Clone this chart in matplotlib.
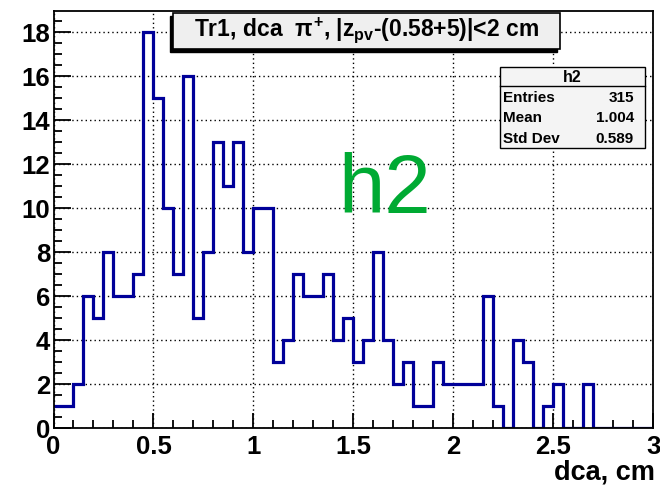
import numpy as np
import matplotlib
matplotlib.use("Agg")
import matplotlib.pyplot as plt
from matplotlib.patches import Rectangle
from matplotlib.ticker import MultipleLocator

plt.rcParams['font.family'] = ['Liberation Sans', 'DejaVu Sans']
plt.rcParams['mathtext.fontset'] = 'custom'
plt.rcParams['mathtext.rm'] = 'Liberation Sans:bold'
plt.rcParams['mathtext.it'] = 'Liberation Sans:bold'
plt.rcParams['mathtext.bf'] = 'Liberation Sans:bold'

# histogram h2: 60 bins of 0.05 on [0, 3]
bin_edges = np.linspace(0.0, 3.0, 61)
counts = [1, 1, 2, 6, 5, 8, 6, 6, 7, 18,
          15, 10, 7, 16, 5, 8, 13, 11, 13, 8,
          10, 10, 3, 4, 7, 6, 6, 7, 4, 5,
          3, 4, 8, 4, 2, 3, 1, 1, 3, 2,
          2, 2, 2, 6, 1, 0, 4, 3, 0, 1,
          2, 0, 0, 2, 0, 0, 0, 0, 0, 0]

title = "Tr1, dca  $\\pi^{+}$, |z$_{pv}$-(0.58+5)|<2 cm"
stat_names = ["Entries", "Mean", "Std Dev"]
stat_values = ["315", "1.004", "0.589"]

W, H = 660, 486
fig = plt.figure(figsize=(W / 100, H / 100), dpi=100)


def fx(px):
    return px / W


def fy(py):
    return 1 - py / H


ax = fig.add_axes([fx(53.5), fy(428.3), fx(653.3 - 53.5), (428.3 - 11) / H])
ax.stairs(counts, bin_edges, baseline=None, color='#000099', lw=2.3)
ax.set_xlim(0, 3)
ax.set_ylim(0, 18.97)

ax.xaxis.set_major_locator(MultipleLocator(0.5))
ax.xaxis.set_minor_locator(MultipleLocator(0.1))
ax.yaxis.set_major_locator(MultipleLocator(2))
ax.yaxis.set_minor_locator(MultipleLocator(0.5))
ax.xaxis.set_major_formatter(plt.FuncFormatter(lambda v, p: f"{v:g}"))
ax.tick_params(which='both', direction='in', top=False, right=False,
               labelsize=18.5, width=1.3)
ax.tick_params(which='major', length=11, pad=5)
ax.tick_params(which='minor', length=5.5)
ax.tick_params(axis='y', which='major', length=12, pad=2.5)
for lab in ax.get_xticklabels() + ax.get_yticklabels():
    lab.set_fontweight('bold')
for s in ax.spines.values():
    s.set_linewidth(1.3)
ax.grid(True, which='major', color='black', linestyle=(0, (1, 2.2)), lw=1.0)
ax.set_axisbelow(True)

# axis title at the right end, below the tick labels
fig.text(fx(655), fy(479), "dca, cm", fontsize=19.5, fontweight='bold',
         ha='right', va='baseline')

# big green name
fig.text(fx(338), fy(213), "h2", fontsize=60, color='#00aa33',
         ha='left', va='baseline')

# title box with shadow
bx0, bx1, by0, by1 = 173, 560, 12.7, 49
fig.patches.append(Rectangle((fx(bx0 - 3), fy(by1 + 3)), fx(bx1 - bx0), (by1 - by0) / H,
                             transform=fig.transFigure, facecolor='black',
                             edgecolor='black', zorder=5))
fig.patches.append(Rectangle((fx(bx0), fy(by1)), fx(bx1 - bx0), (by1 - by0) / H,
                             transform=fig.transFigure, facecolor='#efefef',
                             edgecolor='black', lw=1.2, zorder=6))
fig.text(fx((bx0 + bx1) / 2), fy(30), title, fontsize=16.5, fontweight='bold',
         ha='center', va='center', zorder=7)

# stats box
sx0, sx1, sy0, sy1 = 500, 645, 66.7, 148
fig.patches.append(Rectangle((fx(sx0), fy(sy1)), fx(sx1 - sx0), (sy1 - sy0) / H,
                             transform=fig.transFigure, facecolor='#f4f4f4',
                             edgecolor='black', lw=1.0, zorder=5))
fig.add_artist(plt.Line2D([fx(sx0), fx(sx1)], [fy(86), fy(86)],
                          transform=fig.transFigure, color='black', lw=1.0, zorder=6))
fig.text(fx((sx0 + sx1) / 2), fy(77), "h2", fontsize=11.5, fontweight='bold',
         ha='center', va='center', zorder=7)
for i, (name, val) in enumerate(zip(stat_names, stat_values)):
    y = 98 + 20.5 * i
    fig.text(fx(503), fy(y), name, fontsize=11, fontweight='bold',
             ha='left', va='center', zorder=7)
    fig.text(fx(634), fy(y), val, fontsize=11, fontweight='bold',
             ha='right', va='center', zorder=7)

fig.savefig("out.png", dpi=100)
